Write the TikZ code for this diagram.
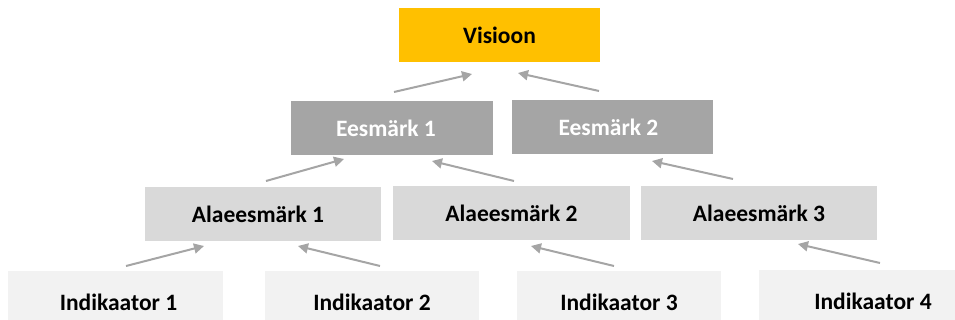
\documentclass[tikz,border=0pt]{standalone}
\usepackage{fontspec}
\setmainfont{Carlito}
\usetikzlibrary{arrows.meta}
\definecolor{gold}{HTML}{FFC000}
\definecolor{midgray}{HTML}{A5A5A5}
\definecolor{lightgray}{HTML}{D9D9D9}
\definecolor{palegray}{HTML}{F2F2F2}
\definecolor{arrgray}{HTML}{A5A5A5}
\begin{document}
\begin{tikzpicture}[x=1pt,y=-1pt,
  box/.style={rectangle, inner sep=0pt, text=black,
    font=\fontsize{23.5}{28}\selectfont\bfseries},
  arr/.style={draw=arrgray, line width=2pt, -{Triangle[length=10pt,width=10pt]}}]
\useasboundingbox (0,0) rectangle (955,320);
\clip (0,0) rectangle (955,320);
% level 0
\node[box, fill=gold, minimum width=201pt, minimum height=54pt] (v) at (499.5,35) {Visioon};
% level 1
\node[box, fill=midgray, text=white, minimum width=202pt, minimum height=54pt] (e1) at (392,128) {Eesmärk 1\hspace*{12pt}};
\node[box, fill=midgray, text=white, minimum width=201pt, minimum height=54pt] (e2) at (612.5,127) {Eesmärk 2\hspace*{8pt}};
% level 2
\node[box, fill=lightgray, minimum width=236pt, minimum height=54pt] (a1) at (263,214) {Alaeesmärk 1\hspace*{10pt}};
\node[box, fill=lightgray, minimum width=237pt, minimum height=54pt] (a2) at (511.5,213.5) {Alaeesmärk 2};
\node[box, fill=lightgray, minimum width=236pt, minimum height=54pt] (a3) at (759,213) {Alaeesmärk 3};
% level 3
\node[box, fill=palegray, minimum width=215pt, minimum height=62pt] (i1) at (115.5,302) {\hspace*{6pt}Indikaator 1};
\node[box, fill=palegray, minimum width=214pt, minimum height=62pt] (i2) at (372,302) {Indikaator 2};
\node[box, fill=palegray, minimum width=204pt, minimum height=62pt] (i3) at (619,302) {Indikaator 3};
\node[box, fill=palegray, minimum width=196pt, minimum height=62pt] (i4) at (857,301) {\hspace*{32pt}Indikaator 4};
% free arrow ends
\coordinate (e1s) at (394,92);  \coordinate (e1t) at (472,74);
\coordinate (e2s) at (599,91);  \coordinate (e2t) at (518,73);
\coordinate (a1s) at (266,181); \coordinate (a1t) at (344,159);
\coordinate (a2s) at (514,181); \coordinate (a2t) at (432,161);
\coordinate (a3s) at (733,179); \coordinate (a3t) at (652,161);
\coordinate (i1s) at (126,266); \coordinate (i1t) at (204,246);
\coordinate (i2s) at (380,266); \coordinate (i2t) at (298,246);
\coordinate (i3s) at (614,266); \coordinate (i3t) at (531,246);
\coordinate (i4s) at (880,263); \coordinate (i4t) at (798,244);
\draw[arr] (e1s) -- (e1t);
\draw[arr] (e2s) -- (e2t);
\draw[arr] (a1s) -- (a1t);
\draw[arr] (a2s) -- (a2t);
\draw[arr] (a3s) -- (a3t);
\draw[arr] (i1s) -- (i1t);
\draw[arr] (i2s) -- (i2t);
\draw[arr] (i3s) -- (i3t);
\draw[arr] (i4s) -- (i4t);
\end{tikzpicture}
\end{document}
